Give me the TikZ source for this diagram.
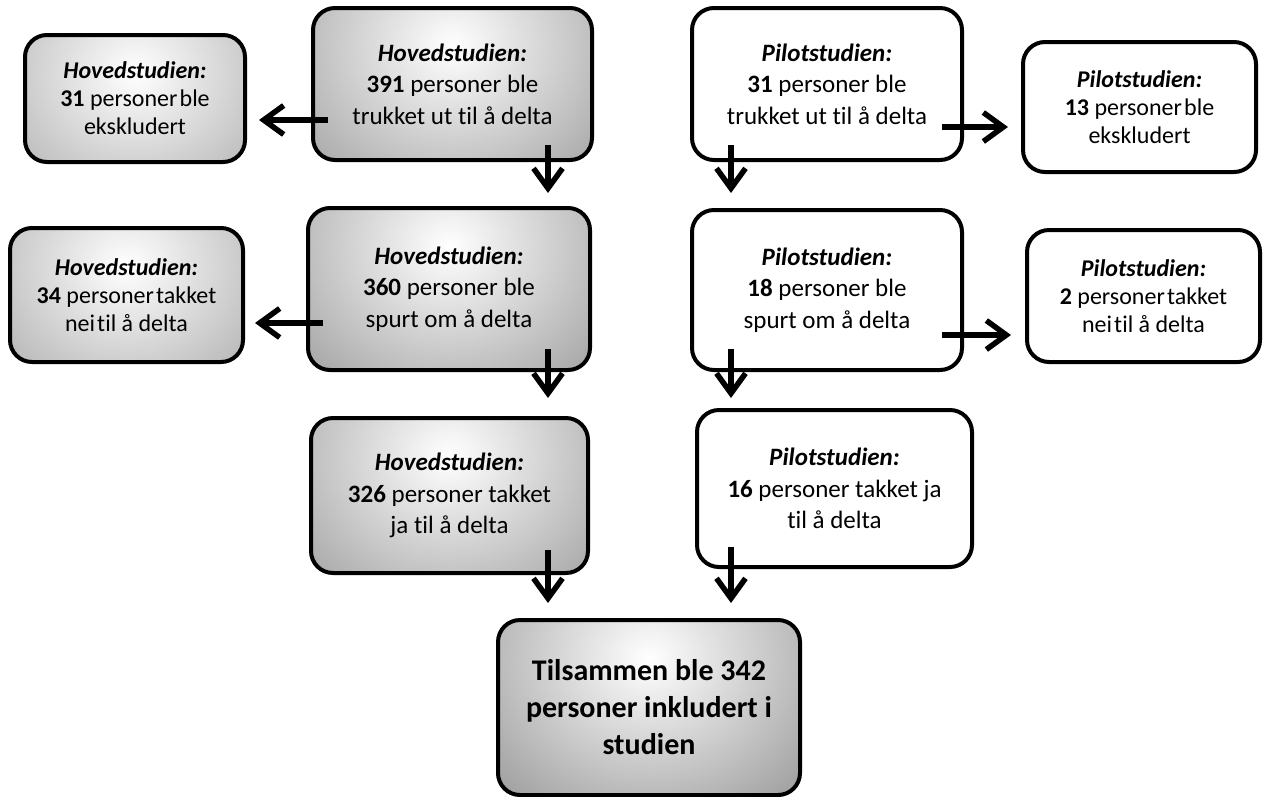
\documentclass[tikz,border=0pt]{standalone}
\usepackage{fontspec}
\setmainfont{Carlito}[RawFeature={-liga;-clig;-calt;-dlig}]
\usetikzlibrary{arrows.meta,calc}
\definecolor{shgray}{HTML}{808080}
\newcommand{\tsp}{\hspace{0.09em}}
\begin{document}
\begin{tikzpicture}[x=1pt,y=-1pt,
 box/.style={draw=black, line width=4pt, rounded corners=22pt, align=center, inner sep=0pt, fill=white},
 grbox/.style={box, fill=shgray, path picture={\shade[inner color=white, outer color=shgray] ($(path picture bounding box.north)+(0,38)$) ellipse [x radius=280, y radius=250];}},
 main/.style={font=\fontsize{25}{31.5}\selectfont},
 side/.style={font=\fontsize{24}{28}\selectfont},
 final/.style={font=\fontsize{30}{37}\selectfont\bfseries},
 arr/.style={line width=5.5pt, -{Straight Barb[length=20pt,width=29pt]}}
]
\useasboundingbox (0,0) rectangle (1268,796);

% Hovedstudien
\node[grbox, side, minimum width=220, minimum height=127] (hx) at (135,98.5)
  {\textbf{\textit{Hovedstudien:}}\\\textbf{31} personer\tsp ble\\ekskludert};
\node[grbox, main, minimum width=279, minimum height=152] (h1) at (452.5,84)
  {\textbf{\textit{Hovedstudien:}}\\\textbf{391} personer ble\\trukket ut til å delta};
\node[grbox, side, minimum width=233, minimum height=134] (hn) at (126.5,295)
  {\textbf{\textit{Hovedstudien:}}\\\textbf{34} personer\tsp takket\\nei\tsp til å delta};
\node[grbox, main, minimum width=282, minimum height=162] (h2) at (449,289)
  {\textbf{\textit{Hovedstudien:}}\\\textbf{360} personer ble\\spurt om å delta};
\node[grbox, main, minimum width=277, minimum height=155] (h3) at (449.5,495.5)
  {\textbf{\textit{Hovedstudien:}}\\\textbf{326} personer takket\\ja til å delta};

% Final
\node[grbox, final, minimum width=302, minimum height=175] (fin) at (649,707.5)
  {Tilsammen ble 342\\personer inkludert i\\studien};

% Pilotstudien
\node[box, main, minimum width=270, minimum height=152] (p1) at (827,84)
  {\textbf{\textit{Pilotstudien:}}\\\textbf{31} personer ble\\trukket ut til å delta};
\node[box, side, minimum width=233, minimum height=130] (px) at (1139.5,107)
  {\textbf{\textit{Pilotstudien:}}\\\textbf{13} personer\tsp ble\\ekskludert};
\node[box, main, minimum width=270, minimum height=160] (p2) at (827,290)
  {\textbf{\textit{Pilotstudien:}}\\\textbf{18} personer ble\\spurt om å delta};
\node[box, side, minimum width=233, minimum height=132] (pn) at (1143.5,296)
  {\textbf{\textit{Pilotstudien:}}\\\textbf{2} personer\tsp takket\\nei\tsp til å delta};
\node[box, main, minimum width=275, minimum height=157] (p3) at (834.5,488.5)
  {\textbf{\textit{Pilotstudien:}}\\\textbf{16} personer takket ja\\til å delta};

% connectors
\coordinate (s1) at ($(h1.west)+(17,36)$);
\coordinate (t1) at ($(hx.east)+(12,0)$);
\draw[arr] (s1) -- (s1 -| t1);

\coordinate (s2) at ($(h1.south)+(95.5,-17)$);
\coordinate (t2) at ($(h2.north)+(0,-13)$);
\draw[arr] (s2) -- (s2 |- t2);

\coordinate (s3) at ($(h2.west)+(17,34)$);
\coordinate (t3) at ($(hn.east)+(10,0)$);
\draw[arr] (s3) -- (s3 -| t3);

\coordinate (s4) at ($(h2.south)+(99,-23)$);
\coordinate (t4) at ($(h3.north)+(0,-18)$);
\draw[arr] (s4) -- (s4 |- t4);

\coordinate (s5) at ($(h3.south)+(98.5,-25)$);
\coordinate (t5) at ($(fin.north)+(0,-15)$);
\draw[arr] (s5) -- (s5 |- t5);

\coordinate (s6) at ($(p1.east)+(-22,43)$);
\coordinate (t6) at ($(px.west)+(-13,0)$);
\draw[arr] (s6) -- (s6 -| t6);

\coordinate (s7) at ($(p1.south)+(-96,-17)$);
\coordinate (t7) at ($(p2.north)+(0,-15)$);
\draw[arr] (s7) -- (s7 |- t7);

\coordinate (s8) at ($(p2.east)+(-22,45)$);
\coordinate (t8) at ($(pn.west)+(-14,0)$);
\draw[arr] (s8) -- (s8 -| t8);

\coordinate (s9) at ($(p2.south)+(-96,-23)$);
\coordinate (t9) at ($(p3.north)+(0,-10)$);
\draw[arr] (s9) -- (s9 |- t9);

\coordinate (s10) at ($(p3.south)+(-103.5,-22)$);
\coordinate (t10) at ($(fin.north)+(0,-15)$);
\draw[arr] (s10) -- (s10 |- t10);
\end{tikzpicture}
\end{document}
